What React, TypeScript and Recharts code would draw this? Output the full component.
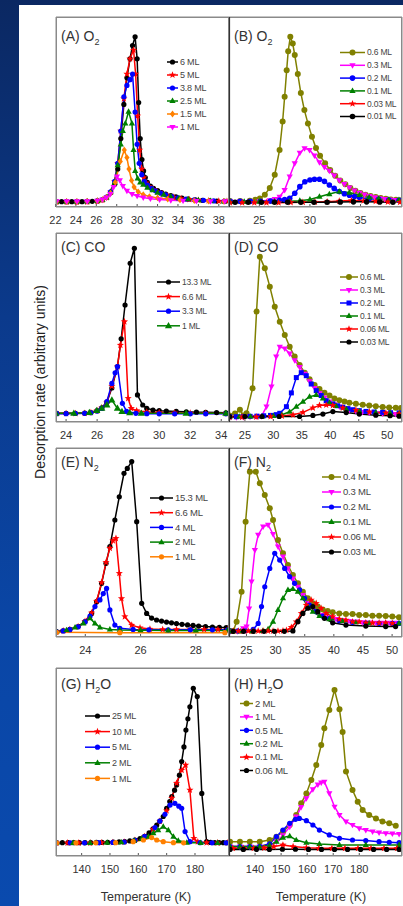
import React from "react";
import { LineChart, Line, XAxis, YAxis } from "recharts";

type Pt = [number, number];

// x = temperature (K), y = desorption rate (arbitrary units, 0-100 of panel height)

// (A) O2 multilayers
const aLabels = ["6 ML", "5 ML", "3.8 ML", "2.5 ML", "1.5 ML", "1 ML"];
const aTicks = [22, 24, 26, 28, 30, 32, 34, 36, 38];
const a6: Pt[] = [[22.1,2.8],[22.6,2.8],[23.1,2.8],[23.6,2.8],[24.1,2.8],[24.6,2.8],[25.1,2.9],[25.6,3],[26.1,3.2],[26.6,3.8],[27.0,5],[27.4,7.5],[27.8,12],[28.1,20],[28.4,36],[28.7,54],[29.0,68],[29.3,78],[29.55,85],[29.8,89.6],[30.0,78],[30.15,55],[30.3,36],[30.47,25],[30.63,19],[30.8,15.5],[31.0,13],[31.3,11],[31.6,9.8],[32.0,8.6],[32.4,7.6],[32.8,6.8],[33.3,6],[33.8,5.3],[34.4,4.7],[35,4.2],[35.7,3.8],[36.4,3.5],[37.1,3.3],[37.8,3.1],[38.6,3]];
const a5: Pt[] = [[22.1,2.6],[23.1,2.6],[24.1,2.6],[25.1,2.7],[26.1,3.1],[26.6,3.7],[27.0,5],[27.4,8],[27.8,13.5],[28.1,23],[28.4,40],[28.7,57],[29.0,70],[29.3,78],[29.65,82.6],[29.85,70],[30.05,48],[30.25,30],[30.45,20],[30.65,15.5],[30.9,12.8],[31.2,10.8],[31.6,9.2],[32.0,8],[32.5,6.9],[33,6],[33.6,5.2],[34.3,4.5],[35.1,4],[36,3.6],[37,3.3],[38,3.1],[38.8,3]];
const a38: Pt[] = [[22.1,2.9],[23.1,2.9],[24.1,2.9],[25.1,3],[26.1,3.3],[26.6,3.9],[27.0,5.2],[27.4,8],[27.8,13.5],[28.1,23],[28.4,40],[28.7,58],[29.0,64],[29.3,67],[29.55,70],[29.8,50],[30.0,33],[30.2,23],[30.45,17],[30.7,13.5],[31.0,11.5],[31.4,9.8],[31.8,8.5],[32.3,7.3],[32.8,6.4],[33.4,5.5],[34,4.8],[34.8,4.2],[35.6,3.8],[36.5,3.5],[37.5,3.2],[38.5,3]];
const a25: Pt[] = [[22.1,2.8],[23.1,2.8],[24.1,2.8],[25.1,2.9],[26.1,3.2],[26.6,3.8],[27.0,5],[27.4,7.8],[27.8,13],[28.1,22],[28.4,33],[28.6,40],[28.84,44],[29.16,50.2],[29.49,44],[29.65,30],[29.81,19],[30.05,15],[30.3,13],[30.6,11.8],[31.0,10.2],[31.5,8.8],[32.0,7.6],[32.6,6.5],[33.3,5.5],[34.1,4.7],[35,4.1],[36,3.6],[37.2,3.2],[38.5,3]];
const a15: Pt[] = [[22.1,2.8],[23.1,2.8],[24.1,2.8],[25.1,2.9],[26.1,3.2],[26.6,3.8],[27.0,5],[27.4,7.3],[27.86,13],[28.35,24],[28.74,30],[29.0,26],[29.2,20],[29.45,14],[29.7,10.5],[30.1,8],[30.6,6.5],[31.2,5.5],[32,4.8],[33,4.2],[34.2,3.7],[35.6,3.4],[37,3.1],[38.5,3]];
const a1: Pt[] = [[22.1,3],[23.1,3],[24.1,3],[25.1,3],[26.1,3.3],[26.6,3.9],[27.0,5],[27.37,6.8],[27.7,10.5],[28.02,16],[28.3,14],[28.6,11],[29.0,8.5],[29.5,6.8],[30.0,5.8],[30.6,5],[31.3,4.4],[32.2,3.9],[33.3,3.5],[34.5,3.3],[35.8,3.1],[37.2,3],[38.6,3]];

// (B) O2 sub-monolayer
const bLabels = ["0.6 ML", "0.3 ML", "0.2 ML", "0.1 ML", "0.03 ML", "0.01 ML"];
const bTicks = [25, 30, 35];
const b06: Pt[] = [[22.1,3.2],[23.1,3.2],[24.06,3.3],[24.6,3.8],[25.05,4.5],[25.54,6.5],[26.03,10],[26.52,17],[27.0,30],[27.3,45],[27.5,58],[27.7,72],[27.85,82],[28.06,89.6],[28.3,86],[28.5,80],[28.8,70],[29.1,60],[29.45,51],[29.8,44],[30.2,37],[30.6,31],[31.0,27],[31.5,23],[32.0,19.5],[32.5,16.5],[33,14],[33.5,12],[34,10],[34.5,8.6],[35,7.4],[35.5,6.5],[36,5.8],[36.5,5.2],[37,4.7],[37.5,4.3],[38,4],[38.5,3.8],[39,3.6]];
const b03: Pt[] = [[22.1,3],[23.1,3],[24.1,3],[25.05,3.1],[26.03,3.5],[26.52,4.2],[27.0,5.4],[27.5,8.9],[28.0,16],[28.5,23],[29.0,28.5],[29.47,30.9],[29.96,30],[30.45,27],[30.94,23.5],[31.43,21],[31.92,19],[32.4,16.5],[32.9,14],[33.4,12],[33.9,10.2],[34.4,8.7],[34.9,7.5],[35.4,6.5],[35.9,5.7],[36.4,5.1],[36.9,4.6],[37.4,4.2],[37.9,3.9],[38.4,3.7],[38.9,3.5]];
const b02: Pt[] = [[22.1,3],[23.1,3],[24.1,3],[25.1,3],[26.1,3.1],[27.0,3.5],[27.5,3.9],[28.0,4.6],[28.5,7.2],[29.0,10.7],[29.5,13.3],[30.0,14.2],[30.45,14.6],[30.94,14.6],[31.43,13.5],[31.92,11.6],[32.4,9.8],[32.9,8.1],[33.4,7],[33.9,6.2],[34.4,5.5],[34.9,5],[35.85,4.4],[36.8,4],[37.8,3.7],[38.8,3.5]];
const b01: Pt[] = [[22.1,2.8],[23.5,2.8],[25,2.8],[26.5,2.9],[28,3],[29.0,3.3],[30.0,4],[30.94,5.4],[31.92,6.8],[32.9,8.1],[33.9,7.6],[34.9,6.3],[35.85,5.1],[36.8,4.4],[37.8,3.9],[38.8,3.7]];
const b003: Pt[] = [[22.1,2.3],[23.3,2.3],[24.5,2.3],[25.7,2.3],[26.9,2.3],[28.1,2.4],[29.3,2.5],[30.5,2.6],[31.7,2.8],[32.9,3.1],[34.1,3.4],[35.3,3.3],[36.5,3],[37.7,2.7],[38.9,2.5]];
const b001: Pt[] = [[22.6,2.5],[23.9,2.5],[25.2,2.5],[26.5,2.5],[27.8,2.5],[29.1,2.5],[30.4,2.5],[31.7,2.5],[33,2.6],[34.3,2.7],[35.6,2.7],[36.9,2.6],[38.2,2.5]];

// (C) CO multilayers
const cLabels = ["13.3 ML", "6.6 ML", "3.3 ML", "1 ML"];
const cTicks = [24, 26, 28, 30, 32, 34];
const c133: Pt[] = [[23.4,4.6],[24.0,4.6],[24.6,4.6],[25.2,4.7],[25.6,5],[26.0,6],[26.3,7.5],[26.63,10.5],[26.95,18],[27.31,29.3],[27.55,44],[27.8,61.9],[28.13,84],[28.4,91.9],[28.6,14.3],[28.94,9],[29.2,7.2],[29.6,6.3],[30.0,6],[30.46,5.8],[31.1,5.6],[31.75,5.4],[32.4,5.2],[33.0,5.1],[33.7,5],[34.3,4.9]];
const c66: Pt[] = [[23.4,4.5],[24.0,4.5],[24.6,4.5],[25.2,4.6],[25.6,5],[26.0,6],[26.3,7.5],[26.63,10.5],[26.95,19],[27.31,29.3],[27.5,40.7],[27.76,53.1],[28.0,12.5],[28.2,7.2],[28.55,6],[29.2,5.3],[30.0,5],[31.0,4.8],[32.0,4.7],[33.0,4.6],[34.3,4.5]];
const c33: Pt[] = [[23.4,4.4],[24.0,4.4],[24.6,4.5],[25.2,4.6],[25.6,4.9],[26.0,5.8],[26.3,7.2],[26.63,10.8],[26.95,20.4],[27.16,26],[27.31,29.3],[27.63,9.9],[27.9,5.6],[28.5,4.6],[29.2,4.4],[30,4.3],[31,4.3],[32,4.3],[33,4.3],[34.3,4.3]];
const c1: Pt[] = [[23.35,4.6],[24.5,4.6],[25.5,5],[25.98,6],[26.3,7.2],[26.63,9],[26.95,11.6],[27.31,7.2],[27.6,5.5],[28.1,4.8],[28.85,4.6],[31.74,4.6],[34.3,4.6]];

// (D) CO sub-monolayer
const dLabels = ["0.6 ML", "0.3 ML", "0.2 ML", "0.1 ML", "0.06 ML", "0.03 ML"];
const dTicks = [25, 30, 35, 40, 45, 50];
const d06: Pt[] = [[22.3,3.5],[23.25,4.5],[24.12,6.5],[24.7,3.5],[25.29,4.6],[26.34,17.8],[27.04,58.4],[27.62,87.5],[28.49,81.3],[29.37,71.6],[30.24,61],[31.12,53.1],[32.0,46],[32.86,39.8],[33.74,34.6],[34.61,30.2],[35.5,26.1],[36.36,22.6],[37.24,19.6],[38.1,17.5],[38.98,15.5],[39.86,14],[40.73,12.5],[41.6,11.5],[42.5,10.8],[43.35,10.2],[44.5,9.6],[45.7,9.1],[46.85,8.7],[48,8.3],[49.2,8],[50.35,7.7],[51.5,7.5],[52.4,7.4]];
const d03: Pt[] = [[22.3,2.5],[23.5,2.5],[24.7,2.6],[25.9,2.7],[27.1,2.8],[27.9,3],[28.79,8.1],[29.66,18.7],[30.5,34.6],[31.12,39.8],[32.0,38.8],[32.86,36.2],[33.74,32.6],[34.61,29.1],[35.5,25.5],[36.36,21.5],[37.24,18],[38.1,15.2],[38.98,12.8],[39.86,10.8],[40.73,9.3],[41.6,8.1],[42.48,7.1],[43.35,6.3],[44.5,5.7],[45.68,5.3],[46.85,4.9],[48,4.7],[49.2,4.5],[50.35,4.3],[51.5,4.2]];
const d02: Pt[] = [[22.3,2.8],[23.5,2.8],[24.7,2.9],[25.9,3],[27.1,3.1],[28.3,3.3],[29.5,3.5],[30.5,3.9],[31.12,4.6],[32.29,8.1],[33.16,15.4],[34.03,23.5],[34.9,26.1],[35.78,24.5],[36.65,20.1],[37.53,16.6],[38.4,14],[39.28,11.3],[40.45,9.6],[41.3,8.6],[42.2,7.8],[43.1,7.1],[43.93,6.5],[45.1,6],[46.27,5.6],[47.7,5.3],[49.2,5.1],[50.6,4.9],[52.1,4.8]];
const d01: Pt[] = [[22.3,2.8],[24,2.8],[26,2.9],[28,3],[30,3.2],[31.5,3.8],[32.86,5.4],[34.03,8.1],[35.2,10.8],[36.36,13.4],[37.53,14.3],[38.7,12.5],[39.86,10.2],[41,8.5],[42.8,6.8],[45.1,5.8],[48,5.1],[50.5,4.8],[52.1,4.6]];
const d006: Pt[] = [[22.3,2.6],[24.5,2.6],[27,2.7],[29.5,2.9],[31.5,3.2],[33.45,3.8],[35.2,5.1],[36.94,7.5],[38.1,8.8],[39.28,9],[40.45,8.8],[42.2,7.5],[44.5,6.3],[46.85,5.4],[49.76,4.8],[52.1,4.4]];
const d003: Pt[] = [[22.3,2.9],[25,2.9],[28,2.9],[31,2.9],[34.6,2.9],[36.94,3.5],[38.7,4.2],[40.45,5.5],[42.8,5],[45.1,4.2],[48,3.6],[50.5,3.3],[52.1,3.1]];

// (E) N2 multilayers
const eLabels = ["15.3 ML", "6.6 ML", "4 ML", "2 ML", "1 ML"];
const eTicks = [24, 26, 28];
const e153: Pt[] = [[22.96,2.8],[23.2,3.3],[23.44,4],[23.74,5.5],[23.99,8.1],[24.23,12.5],[24.41,18.7],[24.59,28.4],[24.75,39],[24.89,47.8],[25.07,61.9],[25.23,74.2],[25.4,86.6],[25.52,89.2],[25.68,92.8],[25.86,61],[26.04,17.8],[26.22,12.5],[26.4,10],[26.58,9],[26.76,8.4],[26.94,7.9],[27.12,7.5],[27.3,7.1],[27.5,6.7],[27.7,6.4],[27.9,6.1],[28.1,5.8],[28.35,5.5],[28.6,5.3],[28.85,5.1],[29.1,5]];
const e66: Pt[] = [[22.96,2.8],[23.2,3.3],[23.44,4],[23.74,5.5],[23.99,8.3],[24.23,12.8],[24.41,19],[24.59,28.8],[24.75,39.5],[24.89,47],[25.0,51],[25.11,52.2],[25.23,33.7],[25.31,20.4],[25.43,10.8],[25.68,6.3],[25.98,4.9],[26.34,4.2],[26.8,4],[27.3,4],[27.8,4],[28.3,4],[28.8,4],[29.15,4]];
const e4: Pt[] = [[22.96,2.7],[23.2,3.2],[23.44,3.9],[23.74,5.4],[23.99,8],[24.17,11],[24.35,16.1],[24.53,19.6],[24.65,23],[24.77,25.7],[24.89,14.3],[25.07,6.3],[25.25,4.6],[25.73,4],[26.3,3.8],[27,3.8],[27.8,3.8],[28.6,3.8],[29.15,3.8]];
const e2: Pt[] = [[22.96,2.8],[23.32,3.7],[23.63,5.1],[23.93,7.2],[24.17,9.9],[24.35,7.2],[24.53,5.1],[24.89,4],[25.25,3.7],[26,3.6],[27,3.5],[28,3.5],[29.15,3.5]];
const e1: Pt[] = [[22.96,2.5],[25.25,2.3],[29.05,2.3]];

// (F) N2 sub-monolayer
const fLabels = ["0.4 ML", "0.3 ML", "0.2 ML", "0.1 ML", "0.06 ML", "0.03 ML"];
const fTicks = [25, 30, 35, 40, 45, 50];
const f04: Pt[] = [[22.2,3.2],[22.74,3.2],[23.31,8.1],[24.16,24],[24.85,61],[25.58,87.5],[26.6,87.5],[27.29,81.3],[28.14,75.1],[29.0,68.1],[29.56,61.9],[30.41,51.3],[31.27,44.3],[32.12,38.1],[32.97,32.8],[33.83,28.4],[34.68,24],[35.53,20.5],[36.39,17.8],[37.24,16.1],[38.09,14.6],[38.95,13.8],[39.8,13.1],[40.94,12.5],[42.08,12.2],[43.21,12.2],[44.35,11.6],[45.49,11.6],[46.63,11.3],[47.77,11.3],[48.9,11.1],[50.04,10.8],[51.18,10.5]];
const f03: Pt[] = [[22.2,3],[23.5,3],[24.45,4.6],[25.02,5.5],[25.45,15],[25.87,29.3],[26.44,46],[27.01,54],[27.86,58.4],[28.71,59.3],[29.56,54.5],[30.41,47.8],[31.27,42.5],[32.12,36.3],[32.97,30.9],[33.83,26.6],[34.68,22.2],[35.53,17.8],[36.39,15.2],[37.24,13.4],[38.09,11.6],[39.24,10.4],[40.37,9.5],[41.5,8.8],[42.6,8.4],[43.78,8.1],[44.9,7.8],[46.06,7.6],[47.2,7.5],[48.3,7.5],[49.5,7.5],[50.6,7.5]];
const f02: Pt[] = [[22.2,3.2],[23.5,3.2],[24.8,3.3],[26.16,4],[27.01,7.2],[27.58,16.1],[28.14,26.6],[29.0,36.3],[29.85,44.3],[30.7,40.7],[31.56,36.3],[32.41,31.9],[33.26,28.4],[34.12,24.9],[34.97,20.5],[35.82,16.9],[36.97,13.4],[38.09,11.1],[39.24,9.9],[40.94,8.6],[43.21,7.7],[45.49,7.4],[47.77,7.2],[50.04,7.2],[51.18,7.2]];
const f01: Pt[] = [[22.2,3],[24,3],[26,3],[27.8,3.2],[28.71,4.1],[29.56,8.1],[30.41,14.3],[31.27,20.5],[32.12,24.9],[32.97,25.4],[33.83,24],[34.68,20.5],[35.53,16.1],[36.39,13.4],[37.53,11.1],[39.24,9.5],[41.51,8.5],[43.78,7.8],[46.06,7.4],[48.9,7.2],[51.18,7.2]];
const f006: Pt[] = [[22.74,3.2],[23.6,3.2],[24.45,3.2],[25.3,3.2],[26.16,3.2],[27.01,3.2],[27.86,3.2],[28.71,3.2],[29.56,3.2],[30.41,3.2],[31.27,3.3],[31.85,3.6],[32.7,5.1],[33.55,8.1],[34.41,12.5],[35.26,16.9],[36.11,19.6],[36.97,17.8],[37.82,15.2],[38.67,12.5],[39.8,10.8],[40.94,9.5],[42.08,9],[43.21,8.1],[44.35,8.1],[45.49,7.5],[46.63,7.5],[47.77,7.5],[48.9,7.5],[50.04,7.2]];
const f003: Pt[] = [[22.74,3],[24.5,3],[26.2,3],[28,3],[29.8,3],[31.5,3],[32.97,3.2],[33.83,8.1],[34.68,12.5],[35.53,15.2],[36.39,16.1],[37.24,13.4],[38.38,9.9],[39.8,7.5],[42.08,6.3],[45.49,5.8],[48.9,5.5],[50.6,5.5]];

// (G) H2O multilayers
const gLabels = ["25 ML", "10 ML", "5 ML", "2 ML", "1 ML"];
const gTicks = [140, 150, 160, 170, 180];
const g25: Pt[] = [[131.2,7.1],[133.2,7.1],[135.2,7.1],[137.2,7.1],[139.2,7.1],[141.2,7.1],[143.2,7.1],[145.2,7.2],[147.2,7.2],[149.2,7.3],[151.2,7.4],[153.2,7.5],[155.2,7.7],[157,8],[158.8,8.5],[160.6,9.3],[162.2,10.5],[163.8,12.3],[165.2,14.5],[166.5,16.5],[167.6,18.6],[168.8,21],[170,25.3],[171.1,29],[171.8,31.6],[172.8,35],[173.5,37.8],[174.5,43],[175.3,50.2],[176.1,58],[176.8,67],[177.5,73],[178.2,79.4],[179.4,89.2],[180.8,84.8],[182.4,33.3],[184.1,7.6],[185.5,7.2],[187,7.1],[188.5,7.1],[190,7.1],[191.5,7.1]];
const g10: Pt[] = [[131.2,7],[135,7],[139,7],[143,7],[147,7.1],[151,7.2],[155,7.5],[158.8,8.4],[162.2,10.4],[165.2,14.3],[167.6,18.5],[170,24.1],[171.8,30.8],[173.5,38.8],[175.3,45.7],[176.7,48.4],[178.2,35.1],[179.6,9.4],[181,7.6],[184.1,7.1],[188,7],[191.5,7]];
const g5: Pt[] = [[131.2,7],[136,7],[141,7],[146,7.1],[151,7.2],[155,7.4],[158.8,8.3],[162.2,10.3],[165.9,15.1],[167.6,18.6],[169.4,22.2],[171.2,27.1],[172.9,28],[174.3,26.5],[175.3,25.4],[176.5,13],[178.2,7.6],[181.8,7.1],[186,7],[191,7]];
const g2: Pt[] = [[131.2,7],[137,7],[143,7],[149,7.1],[154,7.3],[158.5,8.2],[161.2,9.2],[163.6,10.3],[165.3,12.1],[167,13.8],[168.8,15.6],[170.6,13.8],[172.4,10.3],[174.1,8.2],[177.1,7.1],[182,7],[188,7]];
const g1: Pt[] = [[131.2,7],[138,7],[145,7],[152,7.1],[158.2,7.6],[161.8,8.5],[164.7,9.8],[166.5,8.5],[168.8,7.6],[172.4,7.1],[176,7]];

// (H) H2O sub-multilayer
const hLabels = ["2 ML", "1 ML", "0.5 ML", "0.2 ML", "0.1 ML", "0.06 ML"];
const hTicks = [140, 150, 160, 170, 180];
const h2: Pt[] = [[130.4,7.6],[134.2,7.6],[138,7.6],[141.8,7.6],[145.6,8.5],[148.2,10.3],[150.7,13],[153.3,16.5],[155.8,21.8],[157.7,28],[159.7,33.3],[161.6,40.4],[163.5,48.4],[165.4,59],[166.6,67.9],[168.5,77.7],[170.5,88.3],[172.4,78],[173.6,66],[174.9,45],[177.4,35.1],[179.4,28.9],[181.3,24.5],[183.8,21.8],[186.4,20],[188.9,18.3],[191.5,17.4],[194,16.1]];
const h1: Pt[] = [[130.4,5],[134.2,5],[138,5],[141.8,5],[145.6,5.5],[148.2,7.6],[150.7,11],[153.3,15.5],[155.8,21],[157.7,26],[159.7,30.7],[162.2,35.5],[164.1,38],[165.4,39],[166.6,39.5],[168.5,33.3],[170.5,26.2],[172.4,21.8],[174.9,18.3],[177.4,16.5],[180,14.7],[182.5,13.8],[185.1,13],[187.6,12.4],[190.2,12.1],[192.7,11.9],[195.3,11.7]];
const h05: Pt[] = [[130.4,5],[134.2,5],[138,5],[141.8,5.1],[145.6,6.5],[148.2,10.3],[150.7,13.8],[153.3,17.4],[155.5,19.5],[157,20],[159.7,18.8],[162.2,16.5],[164.7,13.8],[168.5,11.2],[172.4,9.4],[177.4,8.5],[182.5,8.2],[187.6,7.6],[191.5,7.3],[195.3,7.1]];
const h02: Pt[] = [[130.4,5],[134.2,5],[138,5],[141.8,5],[145.6,5.8],[148.2,7.6],[150.7,9.8],[153.3,10.6],[155.8,8.5],[159.7,7.1],[164.7,6.4],[172.4,5.9],[182.5,5.9],[195.3,5.9]];
const h01: Pt[] = [[131.5,4.1],[135.5,4.1],[139.5,4.1],[143.5,4.3],[147.2,5],[150.7,5.9],[154.6,5],[159.7,4.4],[164.5,4.1],[169.5,4.1],[174.5,4.1],[179.5,4.1],[184.5,4.1],[189.5,4.1],[194.5,4.1]];
const h006: Pt[] = [[130.4,3.5],[135.5,3.5],[140.5,3.5],[145.5,3.5],[150.5,3.6],[155.5,3.6],[160.5,3.5],[165.5,3.5],[170.5,3.5],[175.5,3.5],[180.5,3.5],[185.5,3.5],[190.5,3.5],[195.3,3.5]];

const yTicks = [0, 14, 28, 42, 56, 70, 84, 98];

const FONT = "'Liberation Sans', Arial, sans-serif";
const BLACK = "#000000";
const RED = "#ff0000";
const BLUE = "#0000ff";
const GREEN = "#008000";
const ORANGE = "#ff8000";
const MAGENTA = "#ff00ff";
const OLIVE = "#808000";

type Shape = "circle" | "square" | "up" | "down" | "star" | "diamond";

interface Series {
  label: string;
  data: Pt[];
  color: string;
  shape: Shape;
  size?: number;
}

interface Panel {
  key: string;
  title: [string, string, string];
  x: number;
  y: number;
  w: number;
  h: number;
  domain: [number, number];
  ticks: number[];
  minor: number;
  series: Series[];
  legend: { x: number; y: number; step: number; len: number; font: number };
}

const s = (label: string, data: Pt[], color: string, shape: Shape, size?: number): Series => ({ label, data, color, shape, size });

const panels: Panel[] = [
  {
    key: "A", title: ["(A) O", "2", ""], x: 56, y: 17, w: 173, h: 190, domain: [22.05, 39], ticks: aTicks, minor: 1,
    series: [s(aLabels[0], a6, BLACK, "circle"), s(aLabels[1], a5, RED, "star"), s(aLabels[2], a38, BLUE, "circle"), s(aLabels[3], a25, GREEN, "up"), s(aLabels[4], a15, ORANGE, "diamond"), s(aLabels[5], a1, MAGENTA, "down")],
    legend: { x: 167, y: 62, step: 13, len: 11, font: 9 },
  },
  {
    key: "B", title: ["(B) O", "2", ""], x: 229, y: 17, w: 173, h: 190, domain: [22, 39.1], ticks: bTicks, minor: 1,
    series: [s(bLabels[0], b06, OLIVE, "circle", 3), s(bLabels[1], b03, MAGENTA, "down"), s(bLabels[2], b02, BLUE, "circle", 2.8), s(bLabels[3], b01, GREEN, "up"), s(bLabels[4], b003, RED, "star"), s(bLabels[5], b001, BLACK, "circle", 2.8)],
    legend: { x: 340, y: 52.5, step: 12.8, len: 25, font: 8.5 },
  },
  {
    key: "C", title: ["(C) CO", "", ""], x: 56, y: 233, w: 173, h: 189, domain: [23.35, 34.5], ticks: cTicks, minor: 0.5,
    series: [s(cLabels[0], c133, BLACK, "circle"), s(cLabels[1], c66, RED, "star"), s(cLabels[2], c33, BLUE, "circle"), s(cLabels[3], c1, GREEN, "up", 3)],
    legend: { x: 157, y: 282, step: 14.6, len: 23, font: 8.5 },
  },
  {
    key: "D", title: ["(D) CO", "", ""], x: 229, y: 233, w: 173, h: 189, domain: [22.2, 52.6], ticks: dTicks, minor: 1,
    series: [s(dLabels[0], d06, OLIVE, "circle", 3), s(dLabels[1], d03, MAGENTA, "down"), s(dLabels[2], d02, BLUE, "square", 2.5), s(dLabels[3], d01, GREEN, "up"), s(dLabels[4], d006, RED, "star"), s(dLabels[5], d003, BLACK, "circle")],
    legend: { x: 340, y: 277, step: 13, len: 18, font: 8.5 },
  },
  {
    key: "E", title: ["(E) N", "2", ""], x: 56, y: 448, w: 173, h: 189, domain: [22.94, 29.2], ticks: eTicks, minor: 0.25,
    series: [s(eLabels[0], e153, BLACK, "circle"), s(eLabels[1], e66, RED, "star"), s(eLabels[2], e4, BLUE, "circle"), s(eLabels[3], e2, GREEN, "up"), s(eLabels[4], e1, ORANGE, "circle")],
    legend: { x: 150, y: 498, step: 14.7, len: 23, font: 9.5 },
  },
  {
    key: "F", title: ["(F) N", "2", ""], x: 229, y: 448, w: 173, h: 189, domain: [22, 51.7], ticks: fTicks, minor: 1,
    series: [s(fLabels[0], f04, OLIVE, "circle", 3), s(fLabels[1], f03, MAGENTA, "down"), s(fLabels[2], f02, BLUE, "circle"), s(fLabels[3], f01, GREEN, "up"), s(fLabels[4], f006, RED, "star"), s(fLabels[5], f003, BLACK, "circle")],
    legend: { x: 322, y: 477, step: 15, len: 19, font: 9.5 },
  },
  {
    key: "G", title: ["(G) H", "2", "O"], x: 56, y: 668, w: 173, h: 188, domain: [130.95, 192], ticks: gTicks, minor: 5,
    series: [s(gLabels[0], g25, BLACK, "circle"), s(gLabels[1], g10, RED, "star"), s(gLabels[2], g5, BLUE, "circle"), s(gLabels[3], g2, GREEN, "up"), s(gLabels[4], g1, ORANGE, "circle")],
    legend: { x: 85, y: 716, step: 15.6, len: 25, font: 9 },
  },
  {
    key: "H", title: ["(H) H", "2", "O"], x: 229, y: 668, w: 173, h: 188, domain: [130, 196.4], ticks: hTicks, minor: 5,
    series: [s(hLabels[0], h2, OLIVE, "circle", 3), s(hLabels[1], h1, MAGENTA, "down"), s(hLabels[2], h05, BLUE, "circle"), s(hLabels[3], h02, GREEN, "up"), s(hLabels[4], h01, RED, "star"), s(hLabels[5], h006, BLACK, "circle")],
    legend: { x: 240, y: 703.5, step: 13.4, len: 13, font: 9.5 },
  },
];

function Marker({ shape, cx, cy, color, size }: { shape: Shape; cx: number; cy: number; color: string; size?: number }) {
  const r = size ?? 2.6;
  switch (shape) {
    case "square":
      return <rect x={cx - r} y={cy - r} width={2 * r} height={2 * r} fill={color} />;
    case "up":
      return <polygon points={`${cx},${cy - r * 1.3} ${cx + r * 1.2},${cy + r * 0.8} ${cx - r * 1.2},${cy + r * 0.8}`} fill={color} />;
    case "down":
      return <polygon points={`${cx},${cy + r * 1.3} ${cx + r * 1.2},${cy - r * 0.8} ${cx - r * 1.2},${cy - r * 0.8}`} fill={color} />;
    case "diamond":
      return <polygon points={`${cx},${cy - r * 1.3} ${cx + r},${cy} ${cx},${cy + r * 1.3} ${cx - r},${cy}`} fill={color} />;
    case "star": {
      const pts: string[] = [];
      for (let k = 0; k < 10; k++) {
        const rad = k % 2 === 0 ? r * 1.45 : r * 0.62;
        const a = -Math.PI / 2 + (k * Math.PI) / 5;
        pts.push(`${cx + rad * Math.cos(a)},${cy + rad * Math.sin(a)}`);
      }
      return <polygon points={pts.join(" ")} fill={color} />;
    }
    default:
      return <circle cx={cx} cy={cy} r={r} fill={color} />;
  }
}

const range = (a: number, b: number, step: number) => {
  const out: number[] = [];
  for (let v = Math.ceil(a / step) * step; v <= b + 1e-9; v += step) out.push(+v.toFixed(3));
  return out;
};

const axisStroke = "#8a8a8a";
const PADL = 14;

function PanelChart({ p }: { p: Panel }) {
  return (
    <div style={{ position: "absolute", left: p.x - PADL, top: p.y - 1 }}>
      <LineChart width={p.w + PADL + 1} height={p.h + 31} margin={{ top: 0, right: 0, bottom: 0, left: PADL - 1 }}>
        <XAxis
          xAxisId="b"
          dataKey="x"
          type="number"
          domain={p.domain}
          ticks={p.ticks}
          interval={0}
          allowDataOverflow
          height={30}
          tickSize={-3}
          tickMargin={12}
          tick={{ fontSize: 11, fill: "#333", fontFamily: FONT }}
          axisLine={{ stroke: axisStroke }}
          tickLine={{ stroke: "#555" }}
        />
        <XAxis
          xAxisId="t"
          orientation="top"
          dataKey="x"
          type="number"
          domain={p.domain}
          ticks={range(p.domain[0], p.domain[1], p.minor)}
          interval={0}
          allowDataOverflow
          height={1}
          tick={false}
          tickSize={-2.5}
          axisLine={{ stroke: axisStroke }}
          tickLine={{ stroke: "#555" }}
        />
        <YAxis yAxisId="l" type="number" domain={[0, 100]} ticks={yTicks} interval={0} width={1} tick={false} tickSize={-3} allowDataOverflow axisLine={{ stroke: axisStroke }} tickLine={{ stroke: "#555" }} />
        <YAxis yAxisId="r" orientation="right" type="number" domain={[0, 100]} ticks={yTicks} interval={0} width={1} tick={false} tickSize={-3} allowDataOverflow axisLine={{ stroke: axisStroke }} tickLine={{ stroke: "#555" }} />
        {p.series.map((se, i) => (
          <Line
            key={i}
            xAxisId="b"
            yAxisId="l"
            data={se.data.map(([x, y]) => ({ x, y }))}
            dataKey="y"
            type="linear"
            stroke={se.color}
            strokeWidth={1.5}
            isAnimationActive={false}
            activeDot={false}
            dot={(d: any) => <Marker key={`dot-${i}-${d.index}`} shape={se.shape} cx={d.cx} cy={d.cy} color={se.color} size={se.size} />}
          />
        ))}
      </LineChart>
    </div>
  );
}

function Overlay() {
  return (
    <svg width={403} height={906} style={{ position: "absolute", left: 0, top: 0, pointerEvents: "none" }}>
      {panels.map((p) => {
        const titleX = p.x + 5;
        const titleY = p.y + (p.key === "A" || p.key === "B" ? 24 : p.key === "G" || p.key === "H" ? 21 : 19);
        const lg = p.legend;
        return (
          <g key={p.key}>
            <rect x={p.x + 0.5} y={p.y + 0.5} width={p.w - 1} height={p.h - 1} fill="none" stroke={axisStroke} strokeWidth={1} />
            {p.x > 200 && <line x1={p.x + 0.5} x2={p.x + 0.5} y1={p.y} y2={p.y + p.h} stroke="#333" strokeWidth={1.2} />}
            <text x={titleX} y={titleY} fontFamily={FONT} fontSize={14} fill="#333">
              {p.title[0]}
              {p.title[1] && (
                <tspan fontSize={9} dy={4}>
                  {p.title[1]}
                </tspan>
              )}
              {p.title[2] && <tspan dy={-4}>{p.title[2]}</tspan>}
            </text>
            {p.series.map((se, i) => {
              const cy = lg.y + i * lg.step;
              return (
                <g key={i}>
                  <line x1={lg.x} x2={lg.x + lg.len} y1={cy} y2={cy} stroke={se.color} strokeWidth={1.5} />
                  <Marker shape={se.shape} cx={lg.x + lg.len / 2} cy={cy} color={se.color} size={se.size} />
                  <text x={lg.x + lg.len + 2} y={cy} dy="0.35em" fontFamily={FONT} fontSize={lg.font} fill="#444" letterSpacing={-0.2}>
                    {se.label}
                  </text>
                </g>
              );
            })}
          </g>
        );
      })}
      <text transform="translate(45,382) rotate(-90)" textAnchor="middle" fontFamily={FONT} fontSize={14} fill="#222">
        Desorption rate (arbitrary units)
      </text>
      <text x={146} y={901} textAnchor="middle" fontFamily={FONT} fontSize={12.5} fill="#333">
        Temperature (K)
      </text>
      <text x={321} y={901} textAnchor="middle" fontFamily={FONT} fontSize={12.5} fill="#333">
        Temperature (K)
      </text>
    </svg>
  );
}

export default function App() {
  return (
    <div
      style={{
        position: "absolute",
        left: 0,
        top: 0,
        width: 403,
        height: 906,
        overflow: "hidden",
        background: "linear-gradient(to bottom, #0b2862 0%, #0b3a8c 35%, #0a46a6 70%, #0a4aae 100%)",
      }}
    >
      <div style={{ position: "absolute", left: 19, top: 5, width: 384, height: 901, background: "#ffffff" }} />
      {panels.map((p) => (
        <PanelChart key={p.key} p={p} />
      ))}
      <Overlay />
    </div>
  );
}
